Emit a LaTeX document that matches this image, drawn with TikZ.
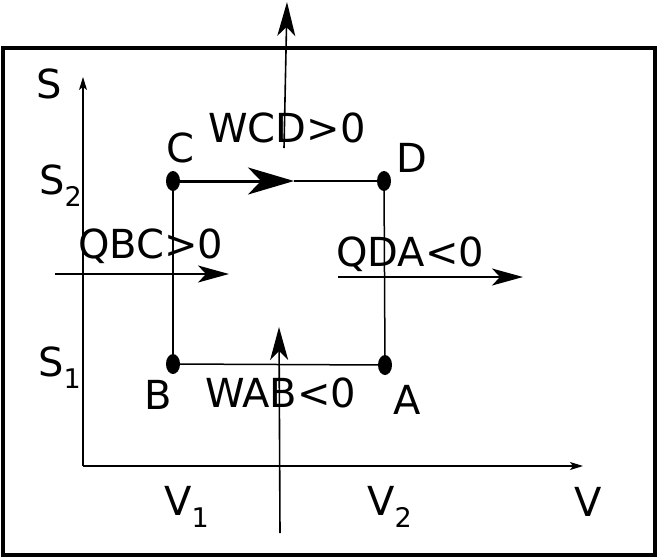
\documentclass[tikz,border=0pt]{standalone}
\usepackage{fontspec}
\setmainfont{DejaVu Sans}
\usepackage{tikz}
\usetikzlibrary{arrows.meta, shapes.geometric}

\newcommand{\lowsub}[1]{\raisebox{-12pt}{\fontsize{27}{30}\selectfont #1}}

\begin{document}
\begin{tikzpicture}[x=1pt, y=-1pt,
  lbl/.style={anchor=base west, inner sep=0pt, font=\fontsize{40}{45}\selectfont},
  dot/.style={ellipse, fill=black, minimum width=14pt, minimum height=20pt, inner sep=0pt},
  axis/.style={line width=1.2pt, -{Stealth[length=13pt, width=8pt, inset=3pt]}},
  flow/.style={line width=1.6pt, -{Stealth[length=31pt, width=17pt, inset=8pt]}},
  side/.style={line width=1.5pt}]
\useasboundingbox (0,0) rectangle (658,558);
\draw[line width=4pt] (3,48) rectangle (655,555);
% axes
\coordinate (O) at (83,466);
\coordinate (Stop) at (83,77);
\coordinate (Vend) at (583,466);
\draw[axis] (O) -- (Stop);
\draw[axis] (O) -- (Vend);
% cycle corners
\node[dot] (C) at (173,181) {};
\node[dot] (D) at (384,181) {};
\node[dot] (B) at (173,364) {};
\node[dot] (A) at (385,365) {};
\coordinate (CDmid) at (294,181);
\draw[side] (B.center) -- (C.center);
\draw[side] (B.center) -- (A.center);
\draw[side] (A.center) -- (D.center);
\draw[line width=2pt] (CDmid) -- (D.center);
\draw[line width=3pt, -{Stealth[length=46pt, width=27pt, inset=13pt]}] (C.center) -- (CDmid);
% heat and work arrows
\coordinate (Wc0) at (284,148);
\coordinate (Wc1) at (287,2);
\coordinate (Wa0) at (280,533);
\coordinate (Wa1) at (279,327);
\coordinate (Qb0) at (55,274);
\coordinate (Qb1) at (229,274);
\coordinate (Qd0) at (338,277);
\coordinate (Qd1) at (523,277);
\draw[flow, -{Stealth[length=34pt, width=18pt, inset=9pt]}] (Wc0) -- (Wc1);
\draw[flow, -{Stealth[length=33pt, width=18pt, inset=9pt]}] (Wa0) -- (Wa1);
\draw[flow] (Qb0) -- (Qb1);
\draw[flow] (Qd0) -- (Qd1);
% labels
\node[lbl] (lS) at (36,98) {S};
\node[lbl] (lS2) at (39,194) {S\lowsub{2}};
\node[lbl] (lS1) at (38,376) {S\lowsub{1}};
\node[lbl] (lC) at (166,162) {C};
\node[lbl] (lD) at (396,172) {D};
\node[lbl] (lB) at (144,409) {B};
\node[lbl] (lA) at (393,414) {A};
\node[lbl] (lWCD) at (208,142) {WCD>0};
\node[lbl] (lQBC) at (78,258) {QBC>0};
\node[lbl] (lQDA) at (336,266) {QDA<0};
\node[lbl] (lWAB) at (205,407) {WAB<0};
\node[lbl] (lV1) at (164,515) {V\lowsub{1}};
\node[lbl] (lV2) at (367,515) {V\lowsub{2}};
\node[lbl] (lV) at (574,516) {V};
\end{tikzpicture}
\end{document}
